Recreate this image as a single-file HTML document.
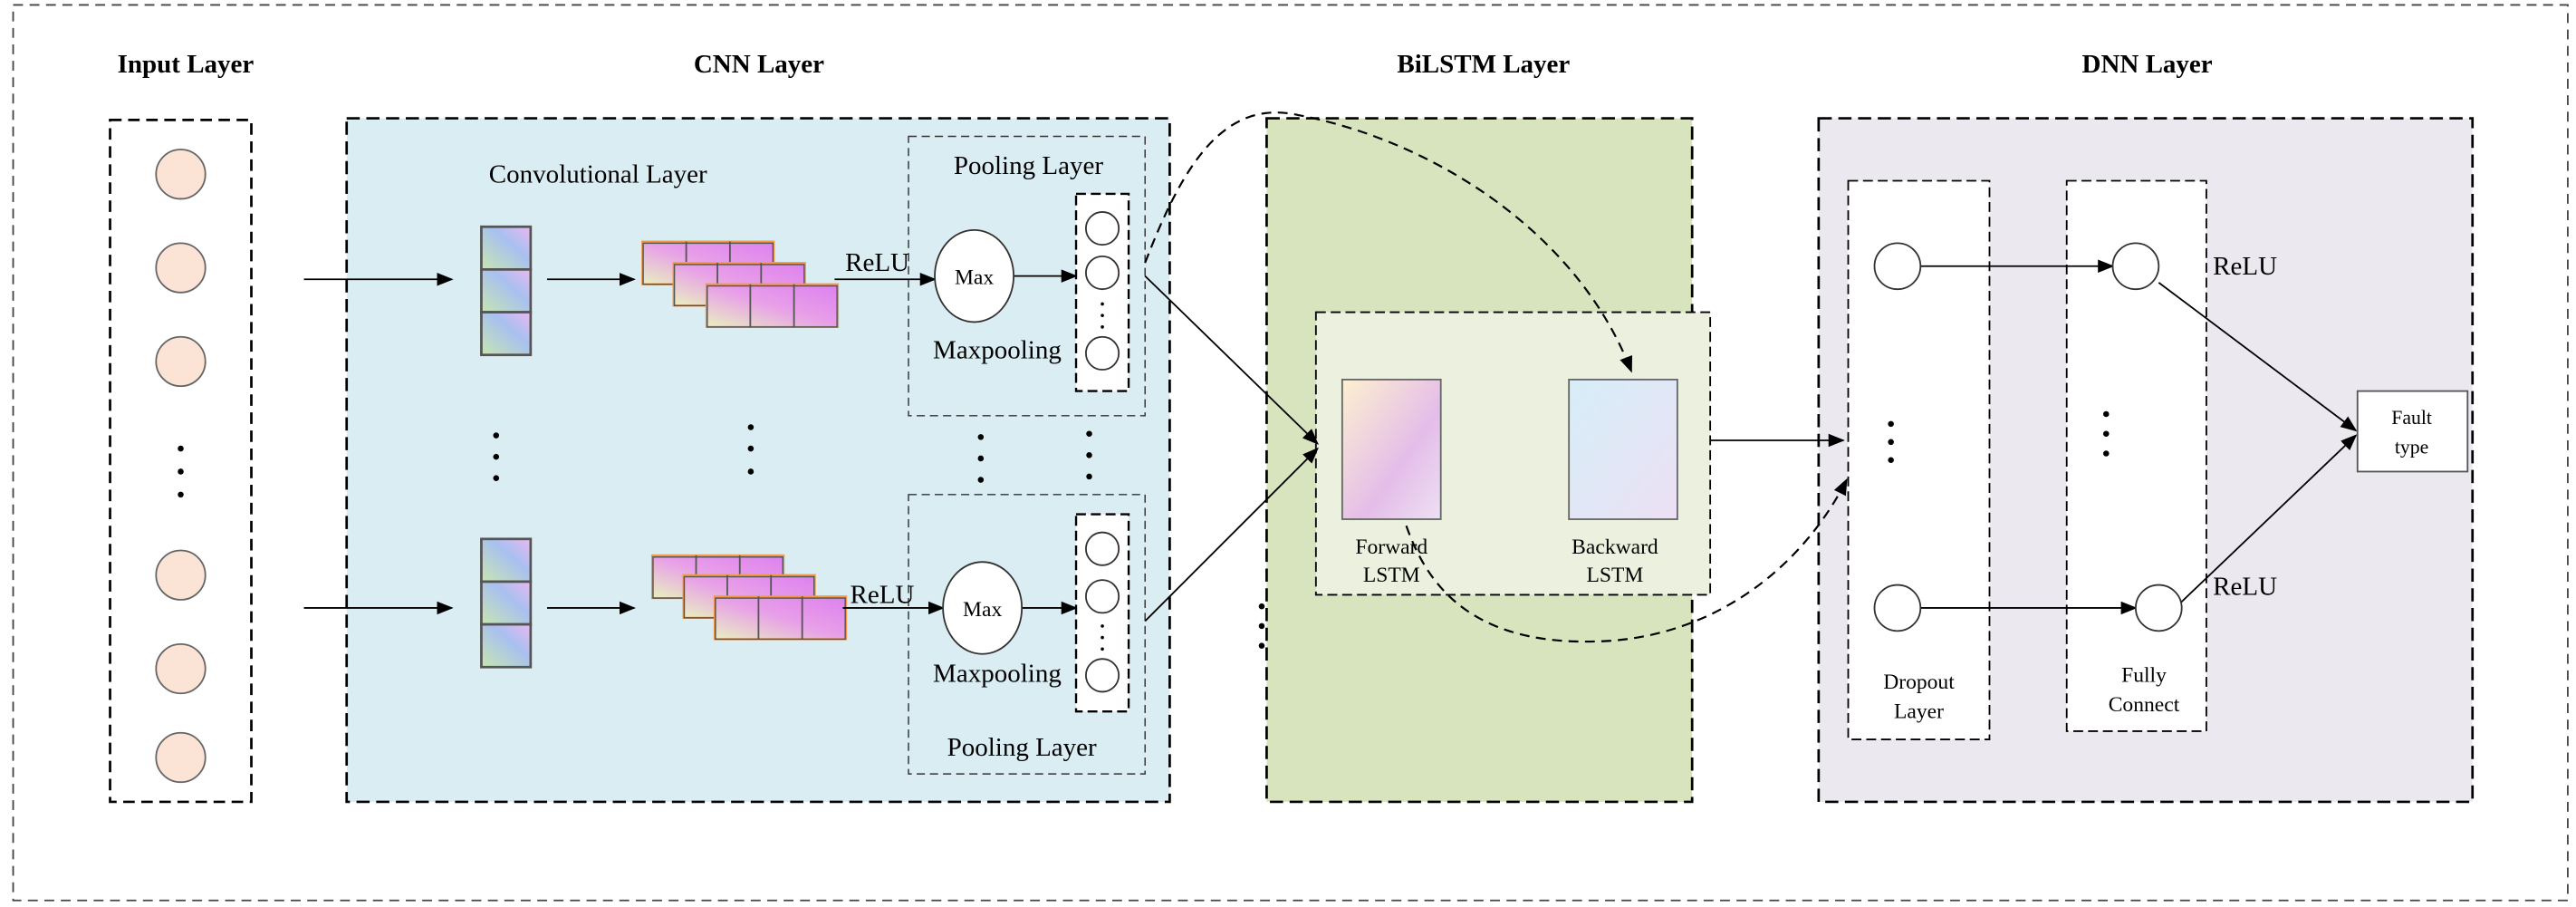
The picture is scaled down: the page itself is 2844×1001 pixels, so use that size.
<!DOCTYPE html>
<html><head><style>html,body{margin:0;padding:0;background:#fff}svg{display:block}text{font-family:"Liberation Serif",serif}</style></head>
<body>
<svg width="2844" height="1001" viewBox="0 0 1568 552" preserveAspectRatio="none" xmlns="http://www.w3.org/2000/svg">
<defs>
<marker id="a" markerWidth="10" markerHeight="8" refX="9" refY="4" orient="auto" markerUnits="userSpaceOnUse"><path d="M0,0 L10,4 L0,8 Z" fill="#000"/></marker>
<linearGradient id="gc" x1="0" y1="1" x2="1" y2="0"><stop offset="0" stop-color="#c8e6b0"/><stop offset="0.6" stop-color="#a8c0f0"/><stop offset="1" stop-color="#e8b8f0"/></linearGradient>
<linearGradient id="gf" x1="0" y1="1" x2="1" y2="0"><stop offset="0" stop-color="#e8f0c0"/><stop offset="0.5" stop-color="#e8a0e8"/><stop offset="1" stop-color="#dd80f0"/></linearGradient>
<linearGradient id="gfw" x1="0" y1="0" x2="1" y2="1"><stop offset="0" stop-color="#fdf0d0"/><stop offset="0.6" stop-color="#e4bde9"/><stop offset="1" stop-color="#ede0f2"/></linearGradient>
<linearGradient id="gbw" x1="0" y1="0" x2="1" y2="1"><stop offset="0" stop-color="#d6eef8"/><stop offset="1" stop-color="#ece0f4"/></linearGradient>
<g id="fm"><rect x="0" y="0" width="80" height="26" fill="url(#gf)" stroke="#f39a4a" stroke-width="1.2"/><line x1="26.7" y1="0" x2="26.7" y2="26" stroke="#555"/><line x1="53.3" y1="0" x2="53.3" y2="26" stroke="#555"/><rect x="0.5" y="1" width="79" height="25" fill="none" stroke="#555" stroke-width="0.8"/></g>
<g id="col"><rect x="0" y="0" width="30" height="26" fill="url(#gc)" stroke="#555" stroke-width="1.5"/><rect x="0" y="26" width="30" height="26" fill="url(#gc)" stroke="#555" stroke-width="1.5"/><rect x="0" y="52" width="30" height="26" fill="url(#gc)" stroke="#555" stroke-width="1.5"/></g>
</defs>
<rect x="8" y="3" width="1555" height="545" fill="none" stroke="#444" stroke-width="1" stroke-dasharray="6,4"/>
<g font-weight="bold" font-size="16" text-anchor="middle"><text x="113" y="44">Input Layer</text><text x="462" y="44">CNN Layer</text><text x="903" y="44">BiLSTM Layer</text><text x="1307" y="44">DNN Layer</text></g>
<!-- input -->
<rect x="67" y="73" width="86" height="415" fill="#fff" stroke="#000" stroke-width="1.5" stroke-dasharray="7,4"/>
<g fill="#fbe4d5" stroke="#666"><circle cx="110" cy="106" r="15"/><circle cx="110" cy="163" r="15"/><circle cx="110" cy="220" r="15"/><circle cx="110" cy="350" r="15"/><circle cx="110" cy="407" r="15"/><circle cx="110" cy="461" r="15"/></g>
<g fill="#000"><circle cx="110" cy="273" r="1.8"/><circle cx="110" cy="287" r="1.8"/><circle cx="110" cy="301" r="1.8"/></g>
<!-- panels -->
<rect x="211" y="72" width="501" height="416" fill="#daedf3" stroke="#000" stroke-width="1.5" stroke-dasharray="8,4"/>
<rect x="771" y="72" width="259" height="416" fill="#d7e4bd" stroke="#000" stroke-width="1.5" stroke-dasharray="8,4"/>
<rect x="1107" y="72" width="398" height="416" fill="#ebe8f0" stroke="#000" stroke-width="1.5" stroke-dasharray="8,4"/>
<rect x="1125" y="110" width="86" height="340" fill="#fff" stroke="#000" stroke-width="1" stroke-dasharray="6,3"/>
<rect x="1258" y="110" width="85" height="335" fill="#fff" stroke="#000" stroke-width="1" stroke-dasharray="6,3"/>
<!-- CNN -->
<text x="364" y="111" font-size="16" text-anchor="middle">Convolutional Layer</text>
<rect x="553" y="83" width="144" height="170" fill="none" stroke="#333" stroke-width="0.8" stroke-dasharray="5,3"/>
<rect x="553" y="301" width="144" height="170" fill="none" stroke="#333" stroke-width="0.8" stroke-dasharray="5,3"/>
<g font-size="16" text-anchor="middle"><text x="626" y="106">Pooling Layer</text><text x="607" y="218">Maxpooling</text><text x="607" y="415">Maxpooling</text><text x="622" y="460">Pooling Layer</text><text x="534" y="165">ReLU</text><text x="537" y="367">ReLU</text></g>
<use href="#col" x="293" y="138"/><use href="#col" x="293" y="328"/>
<use href="#fm" x="391" y="147"/><use href="#fm" x="410" y="160"/><use href="#fm" x="430" y="173"/>
<use href="#fm" x="397" y="338"/><use href="#fm" x="416" y="350"/><use href="#fm" x="435" y="363"/>
<!-- BiLSTM inner -->
<rect x="801" y="190" width="240" height="172" fill="#ebf1de" stroke="#000" stroke-width="1" stroke-dasharray="6,3"/>
<rect x="817" y="231" width="60" height="85" fill="url(#gfw)" stroke="#666"/>
<rect x="955" y="231" width="66" height="85" fill="url(#gbw)" stroke="#666"/>
<g font-size="13" text-anchor="middle"><text x="847" y="337">Forward</text><text x="847" y="354">LSTM</text><text x="983" y="337">Backward</text><text x="983" y="354">LSTM</text></g>
<g stroke="#000" stroke-width="1" marker-end="url(#a)">
<line x1="185" y1="170" x2="275" y2="170"/><line x1="185" y1="370" x2="275" y2="370"/>
<line x1="333" y1="170" x2="386" y2="170"/><line x1="333" y1="370" x2="386" y2="370"/>
<line x1="508" y1="170" x2="569" y2="170"/><line x1="513" y1="370" x2="574" y2="370"/>
<line x1="617" y1="168" x2="655" y2="168"/><line x1="621" y1="370" x2="655" y2="370"/>
<line x1="697" y1="168" x2="802" y2="270"/><line x1="697" y1="378" x2="802" y2="273"/>
<line x1="1041" y1="268" x2="1122" y2="268"/>
<line x1="1169" y1="162" x2="1286" y2="162"/><line x1="1169" y1="370" x2="1300" y2="370"/>
<line x1="1314" y1="172" x2="1434" y2="262"/><line x1="1324" y1="370" x2="1434" y2="265"/>
</g>
<ellipse cx="593" cy="168" rx="24" ry="28" fill="#fff" stroke="#333"/><text x="593" y="173" font-size="13" text-anchor="middle">Max</text>
<ellipse cx="598" cy="370" rx="24" ry="28" fill="#fff" stroke="#333"/><text x="598" y="375" font-size="13" text-anchor="middle">Max</text>
<rect x="655" y="118" width="32" height="120" fill="#fff" stroke="#000" stroke-width="1.3" stroke-dasharray="6,3"/>
<rect x="655" y="313" width="32" height="120" fill="#fff" stroke="#000" stroke-width="1.3" stroke-dasharray="6,3"/>
<g fill="none" stroke="#333"><circle cx="671" cy="139" r="10"/><circle cx="671" cy="166" r="10"/><circle cx="671" cy="215" r="10"/><circle cx="671" cy="334" r="10"/><circle cx="671" cy="363" r="10"/><circle cx="671" cy="411" r="10"/></g>
<g fill="#000"><circle cx="671" cy="185" r="1"/><circle cx="671" cy="192" r="1"/><circle cx="671" cy="199" r="1"/><circle cx="671" cy="381" r="1"/><circle cx="671" cy="388" r="1"/><circle cx="671" cy="395" r="1"/>
<circle cx="302" cy="265" r="1.8"/><circle cx="302" cy="278" r="1.8"/><circle cx="302" cy="291" r="1.8"/>
<circle cx="457" cy="260" r="1.8"/><circle cx="457" cy="273" r="1.8"/><circle cx="457" cy="287" r="1.8"/>
<circle cx="597" cy="266" r="1.8"/><circle cx="597" cy="279" r="1.8"/><circle cx="597" cy="292" r="1.8"/>
<circle cx="663" cy="264" r="1.8"/><circle cx="663" cy="277" r="1.8"/><circle cx="663" cy="290" r="1.8"/>
<circle cx="768" cy="369" r="1.8"/><circle cx="768" cy="381" r="1.8"/><circle cx="768" cy="393" r="1.8"/>
<circle cx="1151" cy="258" r="1.8"/><circle cx="1151" cy="269" r="1.8"/><circle cx="1151" cy="280" r="1.8"/>
<circle cx="1282" cy="252" r="1.8"/><circle cx="1282" cy="264" r="1.8"/><circle cx="1282" cy="276" r="1.8"/></g>
<path d="M697,160 C720,100 745,60 790,70 C870,85 960,140 993,226" fill="none" stroke="#000" stroke-width="1.2" stroke-dasharray="6,4" marker-end="url(#a)"/>
<path d="M856,320 C870,360 900,395 980,390 C1050,385 1100,340 1124,292" fill="none" stroke="#000" stroke-width="1.2" stroke-dasharray="6,4" marker-end="url(#a)"/>
<!-- DNN -->
<g fill="#fff" stroke="#333"><circle cx="1155" cy="162" r="14"/><circle cx="1155" cy="370" r="14"/><circle cx="1300" cy="162" r="14"/><circle cx="1314" cy="370" r="14"/></g>
<g font-size="13" text-anchor="middle"><text x="1168" y="419">Dropout</text><text x="1168" y="437">Layer</text><text x="1305" y="415">Fully</text><text x="1305" y="433">Connect</text></g>
<g font-size="16"><text x="1347" y="167">ReLU</text><text x="1347" y="362">ReLU</text></g>
<rect x="1435" y="238" width="67" height="49" fill="#fff" stroke="#555"/>
<g font-size="12" text-anchor="middle"><text x="1468" y="258">Fault</text><text x="1468" y="276">type</text></g>
</svg>
</body></html>
